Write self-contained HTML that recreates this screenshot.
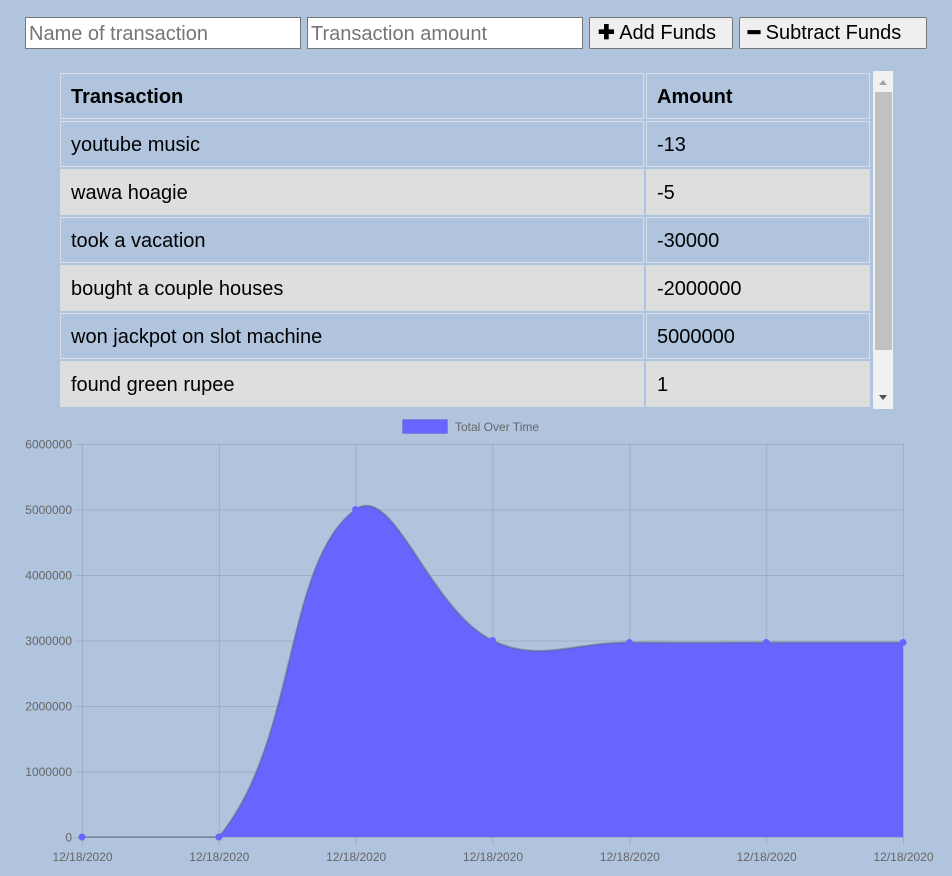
<!DOCTYPE html>
<html><head><meta charset="utf-8"><style>
body{margin:0;width:952px;height:876px;background:#b0c4de;font-family:"Liberation Sans",Arial,sans-serif;position:relative;overflow:hidden}
.inp{position:absolute;top:17px;height:32px;box-sizing:border-box;border:1px solid #767676;background:#fff;font-size:20px;color:#757575;padding:4px 3px 0;line-height:24px}
.btn{position:absolute;top:17px;height:32px;box-sizing:border-box;border:1px solid #767676;background:#efefef;border-radius:2px;font-size:20px;color:#000;line-height:31px;padding:0 8px}
.cell{position:absolute;box-sizing:border-box;border:1px solid #d8dde6;font-size:20px;padding-left:10px;line-height:46px}
.even{background:#dedede}
</style></head><body>
<div class="inp" style="left:25px;width:276px">Name of transaction</div>
<div class="inp" style="left:307px;width:276px">Transaction amount</div>
<div class="btn" style="left:589px;width:144px"><b>✚</b> Add Funds</div>
<div class="btn" style="left:739px;width:188px"><b>━</b> Subtract Funds</div>
<div>
<div class="cell" style="left:60px;top:73px;width:584px;height:46px;font-weight:bold">Transaction</div>
<div class="cell" style="left:646px;top:73px;width:224px;height:46px;font-weight:bold">Amount</div>
<div id="rows"></div>
</div>
<div style="position:absolute;left:873px;top:71px;width:20px;height:338px;background:#f1f1f1">
<div style="position:absolute;left:6px;top:9px;width:0;height:0;border-left:4px solid transparent;border-right:4px solid transparent;border-bottom:5px solid #a3a3a3"></div>
<div style="position:absolute;left:2px;top:21px;width:17px;height:258px;background:#c1c1c1"></div>
<div style="position:absolute;left:6px;top:324px;width:0;height:0;border-left:4px solid transparent;border-right:4px solid transparent;border-top:5px solid #505050"></div>
</div>
<svg id="chart" width="952" height="876" style="position:absolute;left:0;top:0"></svg>
<script>
const names=["youtube music","wawa hoagie","took a vacation","bought a couple houses","won jackpot on slot machine","found green rupee"];
const amounts=["-13","-5","-30000","-2000000","5000000","1"];
const rows=document.getElementById('rows');
names.forEach((n,i)=>{
  const top=121+i*48;
  const c=i%2?' even':'';
  const a=document.createElement('div');a.className='cell'+c;a.style.cssText=`left:60px;top:${top}px;width:584px;height:46px`;a.textContent=n;
  
  
  const b=document.createElement('div');b.className='cell'+c;b.style.cssText=`left:646px;top:${top}px;width:224px;height:46px`;b.textContent=amounts[i];
  
  
  rows.appendChild(a);rows.appendChild(b);
});

const labels=["12/18/2020","12/18/2020","12/18/2020","12/18/2020","12/18/2020","12/18/2020","12/18/2020"];
const totals=[0,1,5000001,3000001,2970001,2969996,2969983];
const yTicks=[0,1000000,2000000,3000000,4000000,5000000,6000000];
const X0=82,X1=903,Y0=837,Y1=444,YMAX=6000000;
const sx=i=>X0+i*(X1-X0)/(labels.length-1);
const sy=v=>Y0-v/YMAX*(Y0-Y1);
const svg=document.getElementById('chart');const NS='http://www.w3.org/2000/svg';
function mk(t,at,name){const e=document.createElementNS(NS,t);for(const k in at)e.setAttribute(k,at[k]);
  
  
  svg.appendChild(e);return e;}
yTicks.forEach(v=>{const y=sy(v)+0.5;
  mk('line',{x1:X0-8,x2:X1,y1:y,y2:y,stroke:'rgba(0,0,0,0.1)'},'y-gridline');
  const t=mk('text',{x:X0-10,y:y+4,'text-anchor':'end','font-size':12,fill:'#666','font-family':'Liberation Sans, sans-serif'},'y-tick-label');t.textContent=v;});
labels.forEach((l,i)=>{const x=sx(i)+0.5;
  mk('line',{x1:x,x2:x,y1:Y1,y2:Y0+8,stroke:'rgba(0,0,0,0.1)'},'x-gridline');
  const t=mk('text',{x:x,y:Y0+24,'text-anchor':'middle','font-size':12,fill:'#666','font-family':'Liberation Sans, sans-serif'},'x-tick-label');t.textContent=l;});
const P=totals.map((v,i)=>({x:sx(i),y:sy(v)}));
const T=0.4;const cps=P.map((c,i)=>{const p=P[i-1]||c,n=P[i+1]||c;
  const d01=Math.hypot(c.x-p.x,c.y-p.y),d12=Math.hypot(n.x-c.x,n.y-c.y);
  let s01=d01/(d01+d12),s12=d12/(d01+d12);if(isNaN(s01))s01=0;if(isNaN(s12))s12=0;
  const fa=T*s01,fb=T*s12;
  const cl=(v,a,b)=>Math.max(a,Math.min(b,v));
  return {px:cl(c.x-fa*(n.x-p.x),X0,X1),py:cl(c.y-fa*(n.y-p.y),Y1,Y0),nx:cl(c.x+fb*(n.x-p.x),X0,X1),ny:cl(c.y+fb*(n.y-p.y),Y1,Y0)};});
let d=`M${P[0].x},${P[0].y}`;
for(let i=1;i<P.length;i++){d+=` C${cps[i-1].nx},${cps[i-1].ny} ${cps[i].px},${cps[i].py} ${P[i].x},${P[i].y}`;}
mk('path',{d:d+` L${X1},${Y0} L${X0},${Y0} Z`,fill:'#6666ff'},'area-fill');
mk('path',{d:d,fill:'none',stroke:'rgba(90,90,110,0.45)','stroke-width':2},'series-line');
P.forEach(p=>mk('circle',{cx:p.x,cy:p.y,r:3.5,fill:'#6666ff'},'data-point'));
mk('rect',{x:402.5,y:419.5,width:45,height:14,fill:'#6666ff',stroke:'rgba(0,0,0,0.1)'},'legend-swatch');
const lt=mk('text',{x:455,y:431,'font-size':12,fill:'#666','font-family':'Liberation Sans, sans-serif'},'legend-label');lt.textContent='Total Over Time';
</script>
</body></html>
